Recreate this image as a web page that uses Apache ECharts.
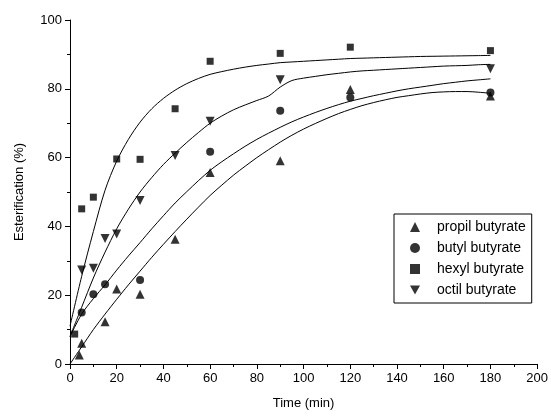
<!DOCTYPE html>
<html>
<head>
<meta charset="utf-8">
<script src="https://cdn.jsdelivr.net/npm/echarts@6/dist/echarts.min.js"></script>
<style>html,body{margin:0;padding:0;background:#fff}#c{width:551px;height:417px}</style>
</head>
<body>
<div id="c"></div>
<script>
// measured points [time (min), esterification (%)]
var propilPts = [[4,2.6],[5,6.0],[15,12.3],[20,21.8],[30,20.3],[45,36.3],[60,55.7],[90,59.1],[120,79.8],[180,77.9]];
var butylPts  = [[5,15.0],[10,20.3],[15,23.2],[30,24.4],[60,61.7],[90,73.6],[120,77.5],[180,78.9]];
var hexylPts  = [[2,8.7],[5,45.1],[10,48.5],[20,59.6],[30,59.5],[45,74.2],[60,88.0],[90,90.3],[120,92.1],[180,91.1]];
var octilPts  = [[5,27.3],[10,27.8],[15,36.5],[20,37.8],[30,47.5],[45,60.6],[60,70.6],[90,82.6],[180,85.8]];

var fitTime   = [0,5,10,15,20,25,30,35,40,45,50,55,60,65,70,75,80,85,90,95,100,105,110,115,120,125,130,135,140,145,150,155,160,165,170,175,180];
var propilFit = [0,5,10,14.5,18.8,23,27,31,34.8,38.5,42.1,45.6,49,52,54.9,57.5,60,62.3,64.5,66.5,68.3,69.9,71.4,72.8,74,75.1,76,76.8,77.5,78,78.5,78.9,79.1,79.2,79.2,79,78.7];
var butylFit  = [8,14.5,19,23,27.3,31.4,35.3,39.3,43.1,46.8,50.1,53.3,56.3,58.8,61.1,63.3,65.3,67.1,68.8,70.4,71.8,73.1,74.3,75.4,76.4,77.2,78,78.7,79.4,80,80.5,81,81.5,81.9,82.3,82.6,82.9];
var hexylFit  = [11,25.5,38.5,50.5,59,65.3,70.3,74.2,77.2,79.6,81.5,83,84.2,85,85.7,86.3,86.8,87.2,87.6,87.8,88,88.2,88.4,88.6,88.8,88.9,89,89.1,89.2,89.3,89.4,89.45,89.5,89.55,89.6,89.65,89.7];
var octilFit  = [8,16.5,25,32.5,39.3,45,50,54.2,58,61.3,64.4,67.3,70,72.1,73.9,75.3,76.6,77.9,80.5,82.4,83.1,83.6,84.1,84.5,84.9,85.2,85.4,85.6,85.8,86,86.2,86.4,86.6,86.7,86.8,87,87.1];

var names = ['propil butyrate','butyl butyrate','hexyl butyrate','octil butyrate'];
var xTicks = [0,20,40,60,80,100,120,140,160,180,200];
var yTicks = [0,20,40,60,80,100];

var downTri = 'path://M0,0L10,0L5,9Z';
var font = 'Liberation Sans, Arial, sans-serif';

function fit(vals){
  var data = fitTime.map(function(t, i){ return [t, vals[i]]; });
  return {type:'line', data:data, smooth:0.3, showSymbol:false, symbol:'none', silent:true,
    lineStyle:{color:'#000', width:1}, z:1};
}
function pts(name, data, symbol, size, rotate){
  return {type:'scatter', name:name, data:data, symbol:symbol, symbolSize:size, symbolRotate:rotate||0,
    itemStyle:{color:'#000'}, z:3};
}

var chart = echarts.init(document.getElementById('c'), null, {renderer:'canvas'});
chart.setOption({
  animation:false,
  backgroundColor:'#fff',
  grid:{left:70, right:12, top:20, bottom:53},
  xAxis:{type:'value', min:xTicks[0], max:xTicks[xTicks.length-1], interval:20,
    name:'Time (min)', nameLocation:'middle', nameGap:33,
    nameTextStyle:{color:'#000', fontSize:13, fontFamily:font},
    axisLine:{lineStyle:{color:'#000', width:1}},
    axisTick:{show:true, inside:false, length:5, lineStyle:{color:'#000'}},
    minorTick:{show:true, splitNumber:2, length:3, lineStyle:{color:'#000'}},
    axisLabel:{color:'#000', fontSize:13, fontFamily:font, margin:8},
    splitLine:{show:false}},
  yAxis:{type:'value', min:yTicks[0], max:yTicks[yTicks.length-1], interval:20,
    name:'Esterification (%)', nameLocation:'middle', nameGap:44, nameRotate:90,
    nameTextStyle:{color:'#000', fontSize:13, fontFamily:font},
    axisLine:{show:true, lineStyle:{color:'#000', width:1}},
    axisTick:{show:true, inside:false, length:5, lineStyle:{color:'#000'}},
    minorTick:{show:true, splitNumber:2, length:3, lineStyle:{color:'#000'}},
    axisLabel:{color:'#000', fontSize:13, fontFamily:font, margin:8},
    splitLine:{show:false}},
  legend:{orient:'vertical', left:394, top:214, itemWidth:10, itemHeight:10, itemGap:7,
    padding:[6,6,6,16], borderColor:'#000', borderWidth:1, backgroundColor:'#fff',
    textStyle:{color:'#000', fontSize:14, fontFamily:font, padding:[0,0,0,12]},
    data:[{name:names[0], icon:'triangle'},{name:names[1], icon:'circle'},{name:names[2], icon:'rect'},{name:names[3], icon:downTri}]},
  series:[
    fit(propilFit), fit(butylFit), fit(hexylFit), fit(octilFit),
    pts(names[0], propilPts, 'triangle', 9),
    pts(names[1], butylPts, 'circle', 8),
    pts(names[2], hexylPts, 'rect', 7),
    pts(names[3], octilPts, 'triangle', 9, 180)
  ]
});
</script>
</body>
</html>
